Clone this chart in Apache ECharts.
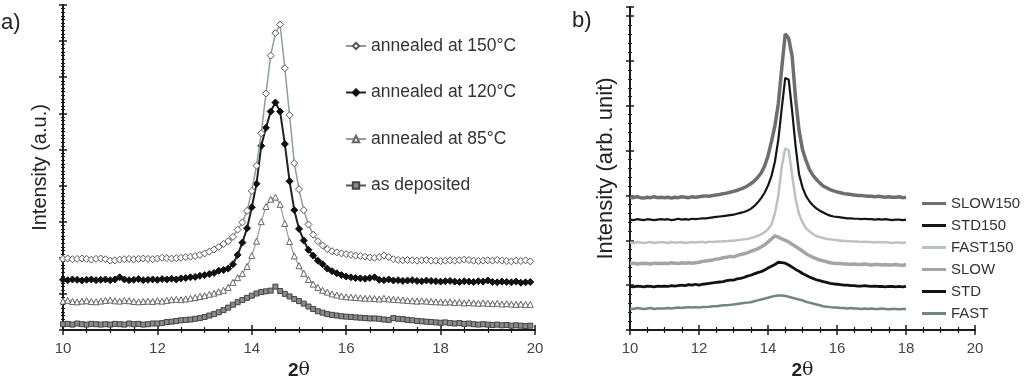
<!DOCTYPE html>
<html>
<head>
<meta charset="utf-8">
<script src="https://cdn.jsdelivr.net/npm/echarts@6/dist/echarts.min.js"></script>
<style>html,body{margin:0;padding:0;background:#fff}#c{width:1024px;height:385px}</style>
</head>
<body>
<div id="c"></div>
<script>
// ---- Panel a: 2θ grid 10.0 .. 19.9 step 0.1 ----
const A_START = 10, A_STEP = 0.1;
const aNames = ['annealed at 150°C', 'annealed at 120°C', 'annealed at 85°C', 'as deposited'];
const a150 = [
1.97,1.98,1.96,1.97,1.98,1.97,1.95,1.97,1.98,1.96,
1.92,1.93,1.95,1.96,1.97,1.96,1.97,1.98,1.97,1.96,
1.98,2.00,1.99,1.98,1.99,2.00,2.02,2.03,2.05,2.08,
2.12,2.17,2.23,2.30,2.38,2.46,2.58,2.78,2.98,3.30,
3.85,4.55,5.45,6.55,7.60,8.22,8.46,7.25,5.95,4.62,
3.90,3.32,2.92,2.64,2.46,2.34,2.24,2.18,2.15,2.12,
2.10,2.08,2.06,2.05,2.03,2.01,2.00,2.02,2.06,2.02,
1.96,1.94,1.93,1.94,1.93,1.92,1.93,1.94,1.92,1.92,
1.91,1.92,1.93,1.92,1.93,1.95,1.94,1.92,1.91,1.92,
1.93,1.92,1.94,1.92,1.91,1.90,1.92,1.91,1.93,1.90];
const a120 = [
1.39,1.38,1.40,1.39,1.37,1.39,1.40,1.38,1.39,1.40,
1.38,1.40,1.46,1.40,1.38,1.39,1.41,1.38,1.39,1.40,
1.39,1.41,1.40,1.42,1.40,1.43,1.44,1.46,1.47,1.50,
1.52,1.55,1.58,1.64,1.66,1.70,1.82,2.08,2.42,2.82,
3.40,4.05,5.10,5.60,6.05,6.30,6.05,5.15,4.12,3.32,
2.80,2.48,2.22,2.06,1.92,1.82,1.70,1.63,1.57,1.52,
1.48,1.46,1.44,1.43,1.42,1.44,1.46,1.39,1.38,1.40,
1.37,1.38,1.36,1.37,1.38,1.36,1.35,1.37,1.36,1.35,
1.34,1.35,1.36,1.34,1.33,1.35,1.34,1.33,1.35,1.34,
1.37,1.33,1.32,1.34,1.33,1.32,1.34,1.31,1.32,1.33];
const a85 = [
0.80,0.82,0.79,0.78,0.80,0.81,0.79,0.78,0.80,0.82,
0.83,0.81,0.80,0.82,0.81,0.79,0.78,0.79,0.80,0.79,
0.81,0.80,0.82,0.84,0.85,0.84,0.86,0.88,0.90,0.93,
0.95,0.99,1.02,1.06,1.10,1.18,1.32,1.45,1.56,1.76,
2.06,2.46,3.00,3.42,3.62,3.68,3.48,2.95,2.45,2.05,
1.78,1.57,1.40,1.27,1.18,1.10,1.05,1.00,0.97,0.94,
0.92,0.91,0.90,0.89,0.88,0.88,0.87,0.86,0.88,0.86,
0.85,0.84,0.83,0.82,0.81,0.80,0.81,0.80,0.79,0.78,
0.78,0.77,0.78,0.76,0.77,0.75,0.76,0.75,0.74,0.75,
0.74,0.73,0.74,0.72,0.73,0.72,0.71,0.72,0.71,0.71];
const aDep = [
0.16,0.17,0.15,0.18,0.16,0.15,0.17,0.16,0.15,0.16,
0.15,0.17,0.16,0.15,0.18,0.16,0.17,0.15,0.16,0.18,
0.18,0.19,0.22,0.23,0.25,0.27,0.28,0.29,0.31,0.33,
0.36,0.40,0.44,0.49,0.55,0.62,0.70,0.77,0.83,0.89,
0.95,1.01,1.05,1.07,1.09,1.20,1.08,1.00,0.93,0.86,
0.80,0.73,0.65,0.58,0.52,0.48,0.44,0.42,0.40,0.38,
0.37,0.36,0.35,0.34,0.33,0.32,0.32,0.31,0.29,0.28,
0.33,0.31,0.30,0.28,0.27,0.25,0.24,0.23,0.22,0.21,
0.20,0.21,0.19,0.18,0.19,0.17,0.18,0.16,0.15,0.16,
0.15,0.14,0.15,0.13,0.14,0.12,0.13,0.12,0.11,0.12];

// ---- Panel b: 2θ grid 10.0 .. 18.0 step 0.1 ----
const B_START = 10, B_STEP = 0.1;
const bNames = ['SLOW150', 'STD150', 'FAST150', 'SLOW', 'STD', 'FAST'];
const bSlow150 = [
2.96,2.95,2.97,2.95,2.94,2.96,2.95,2.97,2.95,2.96,
2.95,2.96,2.94,2.96,2.95,2.97,2.96,2.95,2.97,2.96,
2.97,2.98,2.99,2.98,3.00,3.01,3.02,3.04,3.05,3.07,
3.09,3.11,3.14,3.17,3.21,3.26,3.32,3.40,3.50,3.65,
3.88,4.20,4.55,5.05,5.85,6.60,6.50,6.10,5.15,4.45,
4.02,3.78,3.58,3.45,3.36,3.28,3.21,3.17,3.13,3.10,
3.08,3.06,3.04,3.03,3.02,3.01,3.00,3.00,2.99,2.98,
2.98,2.97,2.98,2.97,2.96,2.97,2.96,2.96,2.97,2.95,
2.96];
const bStd150 = [
2.46,2.45,2.47,2.46,2.45,2.47,2.46,2.45,2.46,2.47,
2.46,2.47,2.45,2.46,2.48,2.46,2.47,2.46,2.48,2.47,
2.48,2.49,2.49,2.50,2.51,2.52,2.53,2.54,2.55,2.56,
2.57,2.59,2.61,2.63,2.66,2.70,2.76,2.84,2.94,3.06,
3.22,3.43,3.75,4.25,4.95,5.62,5.58,4.88,4.10,3.47,
3.18,2.99,2.87,2.78,2.71,2.66,2.62,2.58,2.55,2.53,
2.52,2.51,2.50,2.49,2.49,2.48,2.48,2.47,2.48,2.47,
2.47,2.46,2.47,2.46,2.47,2.46,2.45,2.46,2.46,2.45,
2.46];
const bFast150 = [
1.95,1.94,1.96,1.95,1.94,1.95,1.96,1.94,1.95,1.96,
1.95,1.94,1.96,1.95,1.95,1.96,1.94,1.95,1.96,1.95,
1.96,1.96,1.95,1.97,1.96,1.97,1.97,1.98,1.98,1.99,
1.99,2.00,2.01,2.02,2.03,2.05,2.07,2.10,2.13,2.18,
2.25,2.35,2.60,3.00,3.65,4.05,4.00,3.45,2.92,2.58,
2.40,2.27,2.20,2.14,2.10,2.07,2.05,2.03,2.02,2.01,
2.00,1.99,1.99,1.98,1.98,1.97,1.97,1.96,1.97,1.96,
1.96,1.95,1.96,1.95,1.96,1.95,1.94,1.95,1.95,1.94,
1.95];
const bSlow = [
1.48,1.49,1.47,1.48,1.49,1.48,1.47,1.49,1.48,1.48,
1.49,1.48,1.50,1.49,1.48,1.50,1.49,1.50,1.49,1.50,
1.51,1.53,1.54,1.55,1.56,1.58,1.59,1.61,1.62,1.64,
1.63,1.66,1.68,1.70,1.72,1.75,1.78,1.81,1.85,1.90,
1.96,2.03,2.10,2.07,2.03,2.00,1.96,1.91,1.86,1.81,
1.76,1.70,1.66,1.62,1.59,1.56,1.54,1.52,1.50,1.49,
1.48,1.48,1.47,1.47,1.46,1.47,1.46,1.46,1.47,1.46,
1.45,1.46,1.46,1.45,1.46,1.45,1.45,1.46,1.45,1.44,
1.46];
const bStd = [
0.97,0.96,0.98,0.97,0.96,0.98,0.97,0.96,0.98,0.97,
0.98,0.97,0.99,0.98,0.99,1.00,0.99,1.01,1.00,1.02,
1.00,1.02,1.03,1.04,1.05,1.06,1.07,1.08,1.10,1.11,
1.11,1.14,1.15,1.17,1.20,1.22,1.25,1.28,1.30,1.34,
1.38,1.42,1.46,1.51,1.50,1.49,1.45,1.40,1.35,1.31,
1.26,1.22,1.18,1.15,1.12,1.10,1.08,1.06,1.04,1.03,
1.02,1.01,1.00,1.00,0.99,0.99,0.98,0.98,0.99,0.98,
0.97,0.98,0.97,0.97,0.96,0.97,0.97,0.96,0.97,0.96,
0.97];
const bFast = [
0.48,0.47,0.49,0.48,0.47,0.48,0.49,0.47,0.48,0.48,
0.48,0.49,0.48,0.49,0.50,0.49,0.50,0.51,0.50,0.51,
0.50,0.51,0.51,0.52,0.53,0.53,0.54,0.55,0.55,0.56,
0.57,0.58,0.59,0.60,0.61,0.62,0.64,0.66,0.68,0.70,
0.72,0.74,0.76,0.77,0.77,0.76,0.74,0.72,0.70,0.68,
0.66,0.63,0.61,0.59,0.57,0.55,0.53,0.52,0.51,0.50,
0.50,0.49,0.49,0.48,0.49,0.48,0.48,0.47,0.48,0.47,
0.48,0.47,0.47,0.48,0.47,0.46,0.47,0.47,0.46,0.47,
0.47];

const xTicksA = {min: 10, max: 20, interval: 2};
const xTicksB = {min: 10, max: 20, interval: 2};

function pairs(start, step, ys) {
  return ys.map((y, i) => [+(start + i * step).toFixed(2), y]);
}

const FONT = 'Liberation Sans, Arial, sans-serif';
const AX = '#1a1a1a';

function xMain(gi, t) {
  return {
    gridIndex: gi, type: 'value', min: t.min, max: t.max, interval: t.interval,
    axisLine: {show: true, onZero: false, lineStyle: {color: AX, width: 2}},
    axisTick: {show: true, inside: false, length: 5, lineStyle: {color: AX, width: 1.5}},
    minorTick: {show: true, splitNumber: 4, length: 3, lineStyle: {color: AX, width: 1.2}},
    axisLabel: {color: '#444', fontSize: 15, fontFamily: FONT, margin: 11},
    splitLine: {show: false},
    name: '{b|2}{t|θ}', nameLocation: 'middle', nameGap: 31,
    nameTextStyle: {rich: {
      b: {fontSize: 19, fontWeight: 'bold', color: '#222', fontFamily: FONT},
      t: {fontSize: 19, color: '#222', fontFamily: 'DejaVu Serif, serif'}
    }}
  };
}
function xInner(gi, t) {
  return {
    gridIndex: gi, type: 'value', min: t.min, max: t.max, interval: t.interval, position: 'bottom',
    axisLine: {show: false, onZero: false},
    axisTick: {show: true, inside: true, length: 5, lineStyle: {color: AX, width: 1.5}},
    minorTick: {show: true, splitNumber: 4, length: 3, lineStyle: {color: AX, width: 1.2}},
    axisLabel: {show: false}, splitLine: {show: false}
  };
}
function yMain(gi, max, minorSplit, name, fs) {
  return {
    gridIndex: gi, type: 'value', min: 0, max: max, interval: 1,
    axisLine: {show: true, onZero: false, lineStyle: {color: AX, width: 2}},
    axisTick: {show: true, inside: false, length: 4, lineStyle: {color: AX, width: 1.5}},
    minorTick: {show: true, splitNumber: minorSplit, length: 2, lineStyle: {color: AX, width: 1}},
    axisLabel: {show: false}, splitLine: {show: false},
    name: name, nameLocation: 'middle', nameGap: 13,
    nameTextStyle: {fontSize: fs, color: '#222', fontFamily: FONT}
  };
}
function yInner(gi, max, minorSplit) {
  return {
    gridIndex: gi, type: 'value', min: 0, max: max, interval: 1, position: 'left',
    axisLine: {show: false, onZero: false},
    axisTick: {show: true, inside: true, length: 4, lineStyle: {color: AX, width: 1.5}},
    minorTick: {show: true, splitNumber: minorSplit, length: 2, lineStyle: {color: AX, width: 1}},
    axisLabel: {show: false}, splitLine: {show: false}
  };
}

const aStyles = [
  {symbol: 'diamond', size: 7, fill: '#fff', border: '#555', line: '#8e9e9e', lw: 1.5},
  {symbol: 'diamond', size: 7, fill: '#111', border: '#111', line: '#222', lw: 2},
  {symbol: 'triangle', size: 6, fill: '#fff', border: '#666', line: '#9a9a9a', lw: 1.2},
  {symbol: 'rect', size: 5, fill: '#8a8a8a', border: '#444', line: '#555', lw: 1.5}
];
const aData = [a150, a120, a85, aDep];
const bStyles = [
  {color: '#6d6d73', lw: 3.5},
  {color: '#151515', lw: 2.2},
  {color: '#bac2c2', lw: 2.5},
  {color: '#a4a4a7', lw: 3.5},
  {color: '#121212', lw: 2.8},
  {color: '#728585', lw: 2.5}
];
const bData = [bSlow150, bStd150, bFast150, bSlow, bStd, bFast];

const series = [];
aData.forEach((ys, k) => {
  const s = aStyles[k];
  series.push({
    name: aNames[k], type: 'line', xAxisIndex: 0, yAxisIndex: 0,
    data: pairs(A_START, A_STEP, ys),
    symbol: s.symbol, symbolSize: s.size, showSymbol: true, showAllSymbol: true,
    lineStyle: {color: s.line, width: s.lw},
    itemStyle: {color: s.fill, borderColor: s.border, borderWidth: 1},
    z: 10 - k
  });
});
bData.forEach((ys, k) => {
  const s = bStyles[k];
  series.push({
    name: bNames[k], type: 'line', xAxisIndex: 2, yAxisIndex: 2,
    data: pairs(B_START, B_STEP, ys),
    symbol: 'none', showSymbol: false,
    lineStyle: {color: s.color, width: s.lw},
    itemStyle: {color: s.color},
    z: 10 - k
  });
});

const bLegendData = bNames.map((n, k) => ({
  name: n, icon: 'rect',
  itemStyle: {color: bStyles[k].color, borderWidth: 0}
}));

const chart = echarts.init(document.getElementById('c'));
chart.setOption({
  animation: false,
  backgroundColor: '#fff',
  title: [
    {text: 'a)', left: 1, top: 12, padding: 0, textStyle: {fontSize: 22, fontWeight: 'normal', color: '#222', fontFamily: FONT}},
    {text: 'b)', left: 572, top: 10, padding: 0, textStyle: {fontSize: 22, fontWeight: 'normal', color: '#222', fontFamily: FONT}}
  ],
  grid: [
    {left: 63, top: 5, width: 472, height: 327},
    {left: 630, top: 7, width: 345, height: 326}
  ],
  xAxis: [xMain(0, xTicksA), xInner(0, xTicksA), xMain(1, xTicksB), xInner(1, xTicksB)],
  yAxis: [
    yMain(0, 9, 10, 'Intensity (a.u.)', 20), yInner(0, 9, 10),
    yMain(1, 7.2, 5, 'Intensity (arb. unit)', 22), yInner(1, 7.2, 5)
  ],
  legend: [
    {data: aNames, orient: 'vertical', left: 345, top: 36, padding: 0, itemWidth: 20, itemHeight: 8, itemGap: 26.5,
     selectedMode: false, textStyle: {fontSize: 17.5, lineHeight: 20, color: '#333', fontFamily: FONT}},
    {data: bLegendData, orient: 'vertical', left: 922, top: 195, padding: 0, itemWidth: 24, itemHeight: 3, itemGap: 5,
     selectedMode: false, textStyle: {fontSize: 15, lineHeight: 17, color: '#333', fontFamily: FONT}}
  ],
  series: series
});
</script>
</body>
</html>
